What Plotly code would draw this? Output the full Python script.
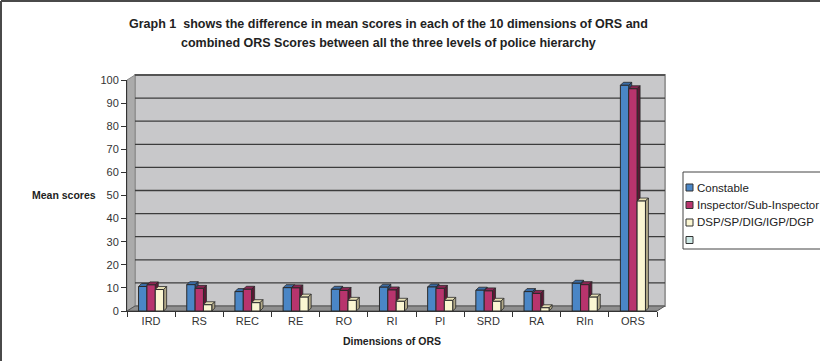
import plotly.graph_objects as go

# ---- data -------------------------------------------------------------
categories = ["IRD", "RS", "REC", "RE", "RO", "RI", "PI", "SRD", "RA", "RIn", "ORS"]
series_names = ["Constable", "Inspector/Sub-Inspector", "DSP/SP/DIG/IGP/DGP", ""]
constable = [10.6, 11.4, 8.4, 10.1, 9.4, 10.3, 10.4, 9.0, 8.4, 12.0, 97.7]
inspector = [11.3, 9.8, 9.4, 10.0, 8.9, 9.1, 9.8, 8.7, 7.6, 11.4, 96.2]
dsp = [9.3, 2.7, 3.6, 6.0, 4.6, 4.2, 4.6, 4.2, 1.4, 6.0, 47.6]
y_ticks = list(range(0, 101, 10))

# ---- styling ----------------------------------------------------------
W, H = 820, 361
ML, MT, PW, PH = 127, 80, 530, 231
MR, MB = W - ML - PW, H - MT - PH
DEPTH_X, DEPTH_Y = 8, 5        # depth of the back wall (px)
BAR_DX, BAR_DY = 3, 3          # depth of each column (px)
BARGAP = 0.48
FONT = "Liberation Sans, Arial, sans-serif"

front = ["#4a86c6", "#b8346d", "#fbf6d2"]
top = ["#3a6ca5", "#8c2553", "#e6dfb4"]
side = ["#2a507d", "#5e1735", "#b1a887"]
legend_extra = "#cde8e5"
edge = "#2a2a2a"

def px_x(px):
    return (px - ML) / PW

def px_y(py):
    return (MT + PH - py) / PH

series = [constable, inspector, dsp]
n_cat = len(categories)
fig = go.Figure()

for k, vals in enumerate(series):
    fig.add_trace(go.Bar(
        x=categories, y=vals, name=series_names[k],
        marker=dict(color=front[k], line=dict(color=edge, width=1)),
        showlegend=False, hoverinfo="x+y",
    ))

shapes = []
# back wall, side wall and floor of the 3-D box
dxp, dyp = DEPTH_X / PW, DEPTH_Y / PH
shapes.append(dict(type="path", xref="paper", yref="paper", layer="below",
                   path=f"M{dxp},{dyp} L{1 + dxp},{dyp} L{1 + dxp},{1 + dyp} L{dxp},{1 + dyp} Z",
                   fillcolor="#c8c8ca", line=dict(color="#9c9c9c", width=2)))
shapes.append(dict(type="path", xref="paper", yref="paper", layer="below",
                   path=f"M0,0 L{dxp},{dyp} L{dxp},{1 + dyp} L0,1 Z",
                   fillcolor="#ababab", line=dict(color="#8a8a8a", width=1)))
shapes.append(dict(type="path", xref="paper", yref="paper", layer="below",
                   path=f"M0,0 L1,0 L{1 + dxp},{dyp} L{dxp},{dyp} Z",
                   fillcolor="#8f8f8f", line=dict(color="#555555", width=1)))
# gridlines on the back wall
for v in y_ticks[1:]:
    yv = v / 100 + dyp
    shapes.append(dict(type="line", xref="paper", yref="paper", layer="below",
                       x0=dxp, x1=1 + dxp, y0=yv, y1=yv,
                       line=dict(color="#3c3c3c", width=1.3)))

# top and side faces of every column
bw = (1 - BARGAP) / 3
dxd = BAR_DX / (PW / n_cat)
dyd = BAR_DY / (PH / 100)
for k, vals in enumerate(series):
    for i, v in enumerate(vals):
        xl = i - (1 - BARGAP) / 2 + k * bw
        xr = xl + bw
        shapes.append(dict(type="path", xref="x", yref="y", layer="between",
                           path=f"M{xl},{v} L{xr},{v} L{xr + dxd},{v + dyd} L{xl + dxd},{v + dyd} Z",
                           fillcolor=top[k], line=dict(color=edge, width=0.8)))
        shapes.append(dict(type="path", xref="x", yref="y", layer="between",
                           path=f"M{xr},0 L{xr},{v} L{xr + dxd},{v + dyd} L{xr + dxd},{dyd} Z",
                           fillcolor=side[k], line=dict(color=edge, width=0.8)))

# outer frame of the chart: top and left edges
frame = dict(color="#4a4a4a", width=2)
shapes.append(dict(type="line", xref="paper", yref="paper", layer="above",
                   x0=px_x(1), x1=px_x(W), y0=px_y(1), y1=px_y(1), line=frame))
shapes.append(dict(type="line", xref="paper", yref="paper", layer="above",
                   x0=px_x(1), x1=px_x(1), y0=px_y(1), y1=px_y(H), line=frame))

# legend box and keys (box runs off the right edge)
LX, LY0, LY1 = 683, 172, 249
box = dict(color="#444444", width=1)
shapes.append(dict(type="rect", xref="paper", yref="paper", layer="above",
                   x0=px_x(LX), x1=px_x(W), y0=px_y(LY1), y1=px_y(LY0),
                   fillcolor="white", line=dict(width=0)))
for yy in (LY0, LY1):
    shapes.append(dict(type="line", xref="paper", yref="paper", layer="above",
                       x0=px_x(LX), x1=px_x(W), y0=px_y(yy), y1=px_y(yy), line=box))
shapes.append(dict(type="line", xref="paper", yref="paper", layer="above",
                   x0=px_x(LX), x1=px_x(LX), y0=px_y(LY0), y1=px_y(LY1), line=box))
key_colors = front + [legend_extra]
key_y = [187.5, 205, 222.5, 240]
annotations = []
for name, col, yy in zip(series_names, key_colors, key_y):
    shapes.append(dict(type="rect", xref="paper", yref="paper", layer="above",
                       x0=px_x(686), x1=px_x(693), y0=px_y(yy + 3.5), y1=px_y(yy - 3.5),
                       fillcolor=col, line=dict(color="#333333", width=1)))
    if name:
        annotations.append(dict(xref="paper", yref="paper", x=px_x(695), y=px_y(yy),
                                xanchor="left", yanchor="middle", showarrow=False,
                                text=name, font=dict(family=FONT, size=11.5, color="#222222")))

# titles
annotations += [
    dict(xref="paper", yref="paper", x=px_x(388), y=px_y(24), xanchor="center", yanchor="middle",
         showarrow=False, text="<b>Graph 1  shows the difference in mean scores in each of the 10 dimensions of ORS and</b>",
         font=dict(family=FONT, size=12.5, color="#222222")),
    dict(xref="paper", yref="paper", x=px_x(388), y=px_y(43), xanchor="center", yanchor="middle",
         showarrow=False, text="<b>combined ORS Scores between all the three levels of police hierarchy</b>",
         font=dict(family=FONT, size=12.5, color="#222222")),
    dict(xref="paper", yref="paper", x=px_x(98), y=px_y(195), xanchor="right", yanchor="middle",
         showarrow=False, text="<b>Mean scores</b>",
         font=dict(family=FONT, size=10.5, color="#222222")),
    dict(xref="paper", yref="paper", x=px_x(392), y=px_y(341), xanchor="center", yanchor="middle",
         showarrow=False, text="<b>Dimensions of ORS</b>",
         font=dict(family=FONT, size=10.5, color="#222222")),
]

fig.update_layout(
    width=W, height=H,
    margin=dict(l=ML, r=MR, t=MT, b=MB, pad=0),
    paper_bgcolor="white", plot_bgcolor="rgba(0,0,0,0)",
    barmode="group", bargap=BARGAP, bargroupgap=0,
    showlegend=False,
    shapes=shapes, annotations=annotations,
    font=dict(family=FONT, size=11, color="#333333"),
)
fig.update_xaxes(
    type="category", range=[-0.5, n_cat - 0.5],
    showline=True, linecolor="#333333", linewidth=1,
    ticks="outside", tickson="boundaries", ticklen=5, tickcolor="#333333",
    showgrid=False, zeroline=False,
    tickfont=dict(family=FONT, size=11, color="#333333"),
)
fig.update_yaxes(
    range=[0, 100], tickvals=y_ticks,
    showline=True, linecolor="#333333", linewidth=1,
    ticks="outside", ticklen=5, tickcolor="#333333",
    showgrid=False, zeroline=False,
    tickfont=dict(family=FONT, size=11, color="#333333"),
)

fig.write_html("out.html")
